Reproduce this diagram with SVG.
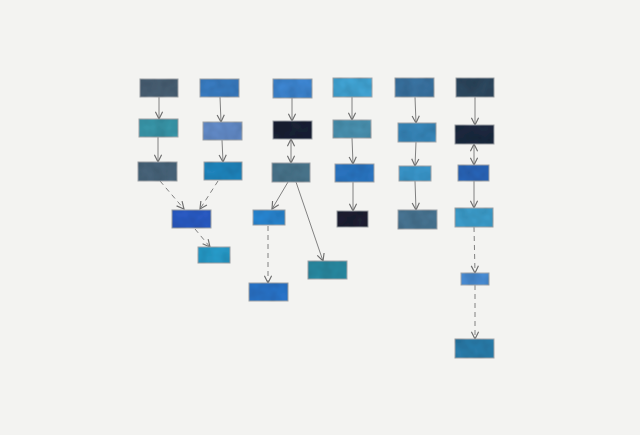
<svg xmlns="http://www.w3.org/2000/svg" width="640" height="435" viewBox="0 0 640 435">
<defs>
<marker id="ah" viewBox="0 0 10 10" refX="9" refY="5" markerWidth="9" markerHeight="9" markerUnits="userSpaceOnUse" orient="auto-start-reverse">
<path d="M1,1 L9,5 L1,9" fill="none" stroke="#6f6f6f" stroke-width="1.3"/>
</marker>
<filter id="wc" x="-5%" y="-10%" width="110%" height="120%">
<feTurbulence type="fractalNoise" baseFrequency="0.09" numOctaves="2" seed="3" result="n"/>
<feColorMatrix in="n" type="matrix" values="0 0 0 0 0  0 0 0 0 0  0 0 0 0 0  0 0 0 0.35 0" result="d"/>
<feComposite in="d" in2="SourceGraphic" operator="atop"/>
</filter>
</defs>
<style>
.b{stroke:#a9aeb3;stroke-width:1;filter:url(#wc)}
.s{fill:none;stroke:#808080;stroke-width:1;marker-end:url(#ah)}
.d{fill:none;stroke:#808080;stroke-width:1;stroke-dasharray:5 4;marker-end:url(#ah)}
.bi{marker-start:url(#ah)}
</style>
<rect width="640" height="435" fill="#f3f3f1"/>
<g id="connectors">
<line class="s" x1="159" y1="97" x2="159" y2="119"/>
<line class="s" x1="158" y1="137" x2="158" y2="162"/>
<line class="s" x1="220" y1="97" x2="221" y2="122"/>
<line class="s" x1="222" y1="140" x2="223" y2="162"/>
<line class="s" x1="292" y1="98" x2="292" y2="121"/>
<line class="s bi" x1="291" y1="139" x2="291" y2="163"/>
<line class="s" x1="352" y1="97" x2="352" y2="120"/>
<line class="s" x1="352" y1="138" x2="353" y2="164"/>
<line class="s" x1="353" y1="182" x2="353" y2="211"/>
<line class="s" x1="415" y1="97" x2="416" y2="123"/>
<line class="s" x1="416" y1="142" x2="415" y2="166"/>
<line class="s" x1="415" y1="181" x2="416" y2="210"/>
<line class="s" x1="475" y1="97" x2="475" y2="125"/>
<line class="s bi" x1="474" y1="144" x2="474" y2="165"/>
<line class="s" x1="474" y1="181" x2="474" y2="208"/>
<line class="d" x1="474" y1="227" x2="475" y2="273"/>
<line class="d" x1="475" y1="285" x2="475" y2="339"/>
<line class="d" x1="160" y1="181" x2="184" y2="209"/>
<line class="d" x1="218" y1="181" x2="200" y2="209"/>
<line class="d" x1="195" y1="229" x2="210" y2="247"/>
<line class="s" x1="288" y1="182" x2="272" y2="209"/>
<line class="s" x1="296" y1="182" x2="323" y2="261"/>
<line class="d" x1="268" y1="226" x2="268" y2="283"/>
</g>
<g id="A1"><rect class="b" x="140" y="79" width="38" height="18" fill="#4b6378"/></g>
<g id="A2"><rect class="b" x="139" y="119" width="39" height="18" fill="#3a9aae"/></g>
<g id="A3"><rect class="b" x="138" y="162" width="39" height="19" fill="#4a677e"/></g>
<g id="B1"><rect class="b" x="200" y="79" width="39" height="18" fill="#3a7fc6"/></g>
<g id="B2"><rect class="b" x="203" y="122" width="39" height="18" fill="#6690cf"/></g>
<g id="B3"><rect class="b" x="204" y="162" width="38" height="18" fill="#2189c3"/></g>
<g id="C1"><rect class="b" x="273" y="79" width="39" height="19" fill="#3f8ad8"/></g>
<g id="C2"><rect class="b" x="273" y="121" width="39" height="18" fill="#1b2236"/></g>
<g id="C3"><rect class="b" x="272" y="163" width="38" height="19" fill="#4b7890"/></g>
<g id="D1"><rect class="b" x="333" y="78" width="39" height="19" fill="#43a9db"/></g>
<g id="D2"><rect class="b" x="333" y="120" width="38" height="18" fill="#4c97b7"/></g>
<g id="D3"><rect class="b" x="335" y="164" width="39" height="18" fill="#2c79c8"/></g>
<g id="D4"><rect class="b" x="337" y="211" width="31" height="16" fill="#1d2134"/></g>
<g id="E1"><rect class="b" x="395" y="78" width="39" height="19" fill="#3b76a6"/></g>
<g id="E2"><rect class="b" x="398" y="123" width="38" height="19" fill="#388abf"/></g>
<g id="E3"><rect class="b" x="399" y="166" width="32" height="15" fill="#3b9ad0"/></g>
<g id="E4"><rect class="b" x="398" y="210" width="39" height="19" fill="#4a7897"/></g>
<g id="F1"><rect class="b" x="456" y="78" width="38" height="19" fill="#2f4a62"/></g>
<g id="F2"><rect class="b" x="455" y="125" width="39" height="19" fill="#1d2b42"/></g>
<g id="F3"><rect class="b" x="458" y="165" width="31" height="16" fill="#2b69c0"/></g>
<g id="F4"><rect class="b" x="455" y="208" width="38" height="19" fill="#3ea2d2"/></g>
<g id="F5"><rect class="b" x="461" y="273" width="28" height="12" fill="#4a8fd8"/></g>
<g id="F6"><rect class="b" x="455" y="339" width="39" height="19" fill="#2b80b0"/></g>
<g id="G"><rect class="b" x="172" y="210" width="39" height="18" fill="#2b5dc8"/></g>
<g id="H"><rect class="b" x="198" y="247" width="32" height="16" fill="#28a0d0"/></g>
<g id="I"><rect class="b" x="253" y="210" width="32" height="15" fill="#2a8ad8"/></g>
<g id="J"><rect class="b" x="249" y="283" width="39" height="18" fill="#2b78d0"/></g>
<g id="K"><rect class="b" x="308" y="261" width="39" height="18" fill="#2b8fa8"/></g>
</svg>
